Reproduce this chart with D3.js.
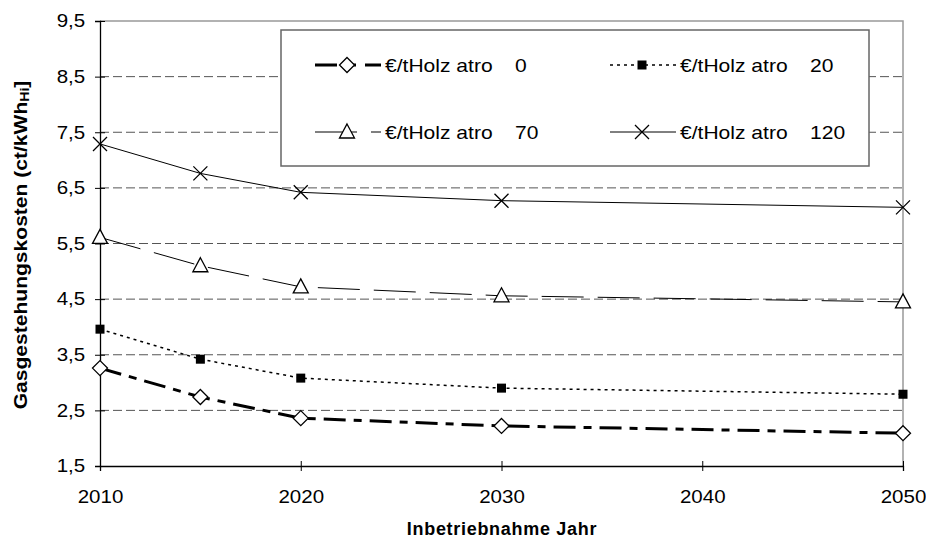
<!DOCTYPE html>
<html><head><meta charset="utf-8">
<script src="https://cdn.jsdelivr.net/npm/d3@7"></script>
<style>body{margin:0;background:#fff}svg{display:block;font-family:"Liberation Sans",Arial,sans-serif}</style>
</head><body><svg id="c" width="926" height="545"></svg>
<script>
const years = [2010, 2015, 2020, 2030, 2050];
const seriesPrefix = "€/tHolz atro";
const seriesLabels = ["0", "20", "70", "120"];
const s0 = [3.26, 2.74, 2.36, 2.22, 2.09];
const s20 = [3.96, 3.42, 3.08, 2.90, 2.79];
const s70 = [5.61, 5.10, 4.72, 4.56, 4.45];
const s120 = [7.29, 6.76, 6.42, 6.27, 6.15];
const yTicks = [1.5, 2.5, 3.5, 4.5, 5.5, 6.5, 7.5, 8.5, 9.5];
const xTicks = [2010, 2020, 2030, 2040, 2050];

const svg = d3.select("#c");
const FONT = '"Liberation Sans",Arial,sans-serif';
const L = 100, R = 903, T = 21, B = 466;
const x = d3.scaleLinear().domain([2010, 2050]).range([L, R]);
const y = d3.scaleLinear().domain([1.5, 9.5]).range([B, T]);

// gridlines
svg.append("g").selectAll("line").data(yTicks.slice(1, -1)).join("line")
  .attr("x1", L).attr("x2", R).attr("y1", d => y(d)).attr("y2", d => y(d))
  .attr("stroke", "#555").attr("stroke-width", 1).attr("stroke-dasharray", "9,4");
// top/right border
svg.append("path").attr("d", `M${L},${T}H${R}V${B}`).attr("fill", "none").attr("stroke", "#999").attr("stroke-width", 1.5);

// axes
const fmt = d3.format(".1f");
const yAxis = svg.append("g").attr("transform", `translate(${L},0)`)
  .call(d3.axisLeft(y).tickValues(yTicks).tickSize(5).tickFormat(d => fmt(d).replace(".", ",")));
const xAxis = svg.append("g").attr("transform", `translate(0,${B})`)
  .call(d3.axisBottom(x).tickValues(xTicks).tickSize(5).tickFormat(d3.format("d")));
[yAxis, xAxis].forEach(a => {
  a.select(".domain").attr("stroke", "#000").attr("stroke-width", 1.3);
  a.selectAll(".tick line").attr("stroke", "#000");
  a.selectAll("text").attr("font-size", 18).attr("fill", "#000").attr("font-family", FONT)
    .attr("transform", "scale(1.14,1)");
});
yAxis.selectAll(".tick").append("line").attr("x2", 5).attr("stroke", "#000");
xAxis.selectAll(".tick").append("line").attr("y2", -5).attr("stroke", "#000");
yAxis.selectAll(".tick text").attr("x", -13);
xAxis.selectAll(".tick text").attr("y", 37).attr("dy", 0);

// axis titles
svg.append("text").attr("x", 502).attr("y", 535).attr("text-anchor", "middle")
  .attr("font-size", 18).attr("font-weight", "bold").attr("letter-spacing", 0.7).text("Inbetriebnahme Jahr");
const yt = svg.append("text").attr("transform", `translate(27,245) rotate(-90) scale(1.17,1)`)
  .attr("text-anchor", "middle").attr("font-size", 18).attr("font-weight", "bold");
yt.append("tspan").text("Gasgestehungskosten (ct/kWh");
yt.append("tspan").attr("font-size", 12).attr("dy", 2).text("Hi");
yt.append("tspan").attr("dy", -2).text("]");

const styles = [
  {data: s0, w: 3, dash: "22,8,8,8", marker: "diamond"},
  {data: s20, w: 1.5, dash: "3,4", marker: "square"},
  {data: s70, w: 1, dash: "42,14", marker: "triangle"},
  {data: s120, w: 1, dash: null, marker: "x"}
];
const line = d3.line().x((d, i) => x(years[i])).y(d => y(d));

function drawMarker(g, type, cx, cy) {
  if (type === "diamond") {
    g.append("path").attr("d", `M${cx},${cy - 7.5}L${cx + 7.5},${cy}L${cx},${cy + 7.5}L${cx - 7.5},${cy}Z`)
      .attr("fill", "#fff").attr("stroke", "#000").attr("stroke-width", 1.3);
  } else if (type === "square") {
    g.append("rect").attr("x", cx - 4.5).attr("y", cy - 4.5).attr("width", 9).attr("height", 9).attr("fill", "#000");
  } else if (type === "triangle") {
    g.append("path").attr("d", `M${cx},${cy - 8}L${cx + 7.5},${cy + 6}L${cx - 7.5},${cy + 6}Z`)
      .attr("fill", "#fff").attr("stroke", "#000").attr("stroke-width", 1.3);
  } else {
    g.append("path").attr("d", `M${cx - 7},${cy - 7}L${cx + 7},${cy + 7}M${cx + 7},${cy - 7}L${cx - 7},${cy + 7}`)
      .attr("stroke", "#000").attr("stroke-width", 1.3);
  }
}

styles.forEach(s => {
  svg.append("path").datum(s.data).attr("d", line).attr("fill", "none")
    .attr("stroke", "#000").attr("stroke-width", s.w).attr("stroke-dasharray", s.dash);
  const g = svg.append("g");
  s.data.forEach((v, i) => drawMarker(g, s.marker, x(years[i]), y(v)));
});

// legend
svg.append("rect").attr("x", 281).attr("y", 30).attr("width", 588).attr("height", 136)
  .attr("fill", "#fff").attr("stroke", "#666").attr("stroke-width", 1.5);
const legPos = [[315, 65], [610, 65], [315, 132], [610, 132]];
const legDash = ["22,9,10,9", "3,4", "42,14", null];
styles.forEach((s, i) => {
  const [lx, ly] = legPos[i];
  const g = svg.append("g");
  g.append("line").attr("x1", lx).attr("x2", lx + 66).attr("y1", ly).attr("y2", ly)
    .attr("stroke", "#000").attr("stroke-width", s.w).attr("stroke-dasharray", legDash[i]);
  drawMarker(g, s.marker, lx + 32, ly);
  g.append("text").attr("transform", `translate(${lx + 70},${ly + 6.5}) scale(1.17,1)`)
    .attr("font-size", 18).text(seriesPrefix);
  g.append("text").attr("transform", `translate(${lx + 200},${ly + 6.5}) scale(1.17,1)`)
    .attr("font-size", 18).text(seriesLabels[i]);
});
</script></body></html>
